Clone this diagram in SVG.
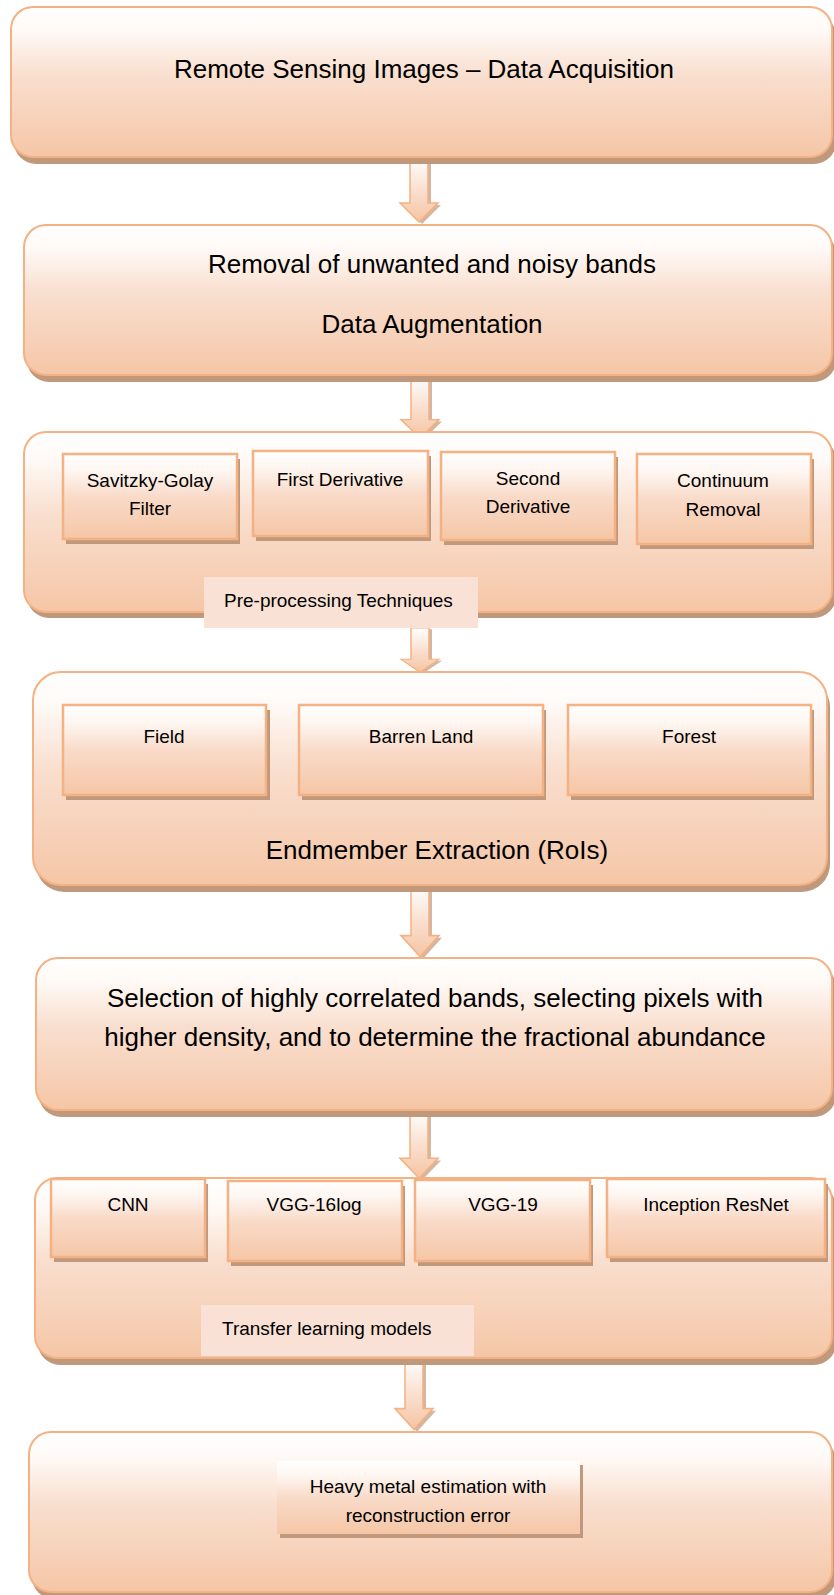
<svg xmlns="http://www.w3.org/2000/svg" width="834" height="1595" viewBox="0 0 834 1595">
<defs>
<linearGradient id="gBig" x1="0" y1="0" x2="0" y2="1">
<stop offset="0" stop-color="#ffffff"/>
<stop offset="0.15" stop-color="#fffaf7"/>
<stop offset="0.45" stop-color="#f9dfcf"/>
<stop offset="1" stop-color="#f5c6a6"/>
</linearGradient>
<linearGradient id="gSub" x1="0" y1="0" x2="0" y2="1">
<stop offset="0" stop-color="#ffffff"/>
<stop offset="0.2" stop-color="#fef6f1"/>
<stop offset="0.5" stop-color="#f9dbc9"/>
<stop offset="1" stop-color="#f5c6a6"/>
</linearGradient>
<linearGradient id="gArr" x1="0" y1="0" x2="0" y2="1">
<stop offset="0" stop-color="#ffffff"/>
<stop offset="0.5" stop-color="#fae0d0"/>
<stop offset="1" stop-color="#f5c4a2"/>
</linearGradient>
<path id="arrowShape" d="M-9,0 H9 V46 H19 L0,65 L-19,46 H-9 Z"/>
</defs>
<style>
text { font-family: "Liberation Sans", Arial, sans-serif; fill: #000; }
.big { font-size: 26px; text-anchor: middle; }
.sm { font-size: 19px; text-anchor: middle; }
.smL { font-size: 19px; text-anchor: start; }
.box { fill: url(#gBig); stroke: #f4b183; stroke-width: 2; }
.sub { fill: url(#gSub); stroke: #f4b183; stroke-width: 2.5; }
.plain { fill: url(#gSub); stroke: none; }
.shd { fill: #c0987c; }
.lbl { fill: #f9e2d5; stroke: none; }
.arr { fill: url(#gArr); stroke: #f4b183; stroke-width: 1.5; }
.arrShd { fill: #c0987c; opacity: 0.7; }
</style>

<g id="connectors">
<g transform="translate(419,157)"><use href="#arrowShape" class="arrShd" transform="translate(3,2)"/><use href="#arrowShape" class="arr"/></g>
<g transform="translate(420,375) scale(1,0.97)"><use href="#arrowShape" class="arrShd" transform="translate(3,2)"/><use href="#arrowShape" class="arr"/></g>
<g transform="translate(420,628) scale(1,0.68)"><use href="#arrowShape" class="arrShd" transform="translate(3,2)"/><use href="#arrowShape" class="arr"/></g>
<g transform="translate(420,885) scale(1,1.1)"><use href="#arrowShape" class="arrShd" transform="translate(3,2)"/><use href="#arrowShape" class="arr"/></g>
<g transform="translate(419,1110) scale(1,1.05)"><use href="#arrowShape" class="arrShd" transform="translate(3,2)"/><use href="#arrowShape" class="arr"/></g>
<g transform="translate(414,1358) scale(1,1.1)"><use href="#arrowShape" class="arrShd" transform="translate(3,2)"/><use href="#arrowShape" class="arr"/></g>
</g>

<g id="node-acquisition">
<rect class="shd" x="14" y="14" width="822" height="150" rx="22"/>
<rect class="box" x="11" y="7" width="821" height="150" rx="22"/>
<text class="big" x="424" y="78">Remote Sensing Images – Data Acquisition</text>
</g>

<g id="node-removal">
<rect class="shd" x="27" y="232" width="809" height="150" rx="22"/>
<rect class="box" x="24" y="225" width="808" height="150" rx="22"/>
<text class="big" x="432" y="273">Removal of unwanted and noisy bands</text>
<text class="big" x="432" y="333">Data Augmentation</text>
</g>

<g id="node-preprocessing">
<rect class="shd" x="27" y="438" width="809" height="180" rx="22"/>
<rect class="box" x="24" y="432" width="808" height="180" rx="22"/>
<g id="node-savitzky">
<rect class="shd" x="66" y="459" width="174" height="85"/>
<rect class="sub" x="63" y="454" width="174" height="85"/>
<text class="sm" x="150" y="487">Savitzky-Golay</text>
<text class="sm" x="150" y="515">Filter</text>
</g>
<g id="node-first-derivative">
<rect class="shd" x="256" y="456" width="175" height="85"/>
<rect class="sub" x="253" y="451" width="175" height="85"/>
<text class="sm" x="340" y="486">First Derivative</text>
</g>
<g id="node-second-derivative">
<rect class="shd" x="444" y="457" width="174" height="88"/>
<rect class="sub" x="441" y="452" width="174" height="88"/>
<text class="sm" x="528" y="485">Second</text>
<text class="sm" x="528" y="513">Derivative</text>
</g>
<g id="node-continuum">
<rect class="shd" x="640" y="459" width="174" height="90"/>
<rect class="sub" x="637" y="454" width="174" height="90"/>
<text class="sm" x="723" y="487">Continuum</text>
<text class="sm" x="723" y="516">Removal</text>
</g>
<g id="label-preprocessing">
<rect class="lbl" x="204" y="577" width="274" height="51"/>
<text class="smL" x="224" y="607">Pre-processing Techniques</text>
</g>
</g>

<g id="node-endmember">
<rect class="shd" x="36" y="679" width="794" height="213" rx="28"/>
<rect class="box" x="33" y="672" width="794" height="213" rx="28"/>
<g id="node-field">
<rect class="shd" x="66" y="710" width="204" height="90"/>
<rect class="sub" x="63" y="705" width="203" height="90"/>
<text class="sm" x="164" y="743">Field</text>
</g>
<g id="node-barren">
<rect class="shd" x="302" y="710" width="244" height="90"/>
<rect class="sub" x="299" y="705" width="244" height="90"/>
<text class="sm" x="421" y="743">Barren Land</text>
</g>
<g id="node-forest">
<rect class="shd" x="571" y="710" width="243" height="90"/>
<rect class="sub" x="568" y="705" width="243" height="90"/>
<text class="sm" x="689" y="743">Forest</text>
</g>
<text class="big" x="437" y="859">Endmember Extraction (RoIs)</text>
</g>

<g id="node-selection">
<rect class="shd" x="39" y="965" width="797" height="152" rx="22"/>
<rect class="box" x="36" y="958" width="796" height="152" rx="22"/>
<text class="big" x="435" y="1007" font-size="27">Selection of highly correlated bands, selecting pixels with</text>
<text class="big" x="435" y="1046" font-size="27">higher density, and to determine the fractional abundance</text>
</g>

<g id="node-transfer">
<rect class="shd" x="38" y="1185" width="798" height="180" rx="22"/>
<rect class="box" x="35" y="1178" width="797" height="180" rx="22"/>
<g id="node-cnn">
<rect class="shd" x="54" y="1184" width="154" height="78"/>
<rect class="sub" x="51" y="1179" width="154" height="78"/>
<text class="sm" x="128" y="1211">CNN</text>
</g>
<g id="node-vgg16">
<rect class="shd" x="231" y="1186" width="174" height="80"/>
<rect class="sub" x="228" y="1181" width="174" height="80"/>
<text class="sm" x="314" y="1211">VGG-16log</text>
</g>
<g id="node-vgg19">
<rect class="shd" x="418" y="1185" width="175" height="81"/>
<rect class="sub" x="415" y="1180" width="175" height="81"/>
<text class="sm" x="503" y="1211">VGG-19</text>
</g>
<g id="node-inception">
<rect class="shd" x="610" y="1184" width="218" height="78"/>
<rect class="sub" x="607" y="1179" width="218" height="78"/>
<text class="sm" x="716" y="1211">Inception ResNet</text>
</g>
<g id="label-transfer">
<rect class="lbl" x="201" y="1305" width="273" height="51"/>
<text class="smL" x="222" y="1335">Transfer learning models</text>
</g>
</g>

<g id="node-estimation">
<rect class="shd" x="32" y="1439" width="804" height="160" rx="22"/>
<rect class="box" x="29" y="1432" width="803" height="160" rx="22"/>
<g id="node-heavy-metal">
<rect class="shd" x="280" y="1465" width="303" height="73"/>
<rect class="plain" x="277" y="1461" width="303" height="73"/>
<text class="sm" x="428" y="1493">Heavy metal estimation with</text>
<text class="sm" x="428" y="1522">reconstruction error</text>
</g>
</g>
</svg>
